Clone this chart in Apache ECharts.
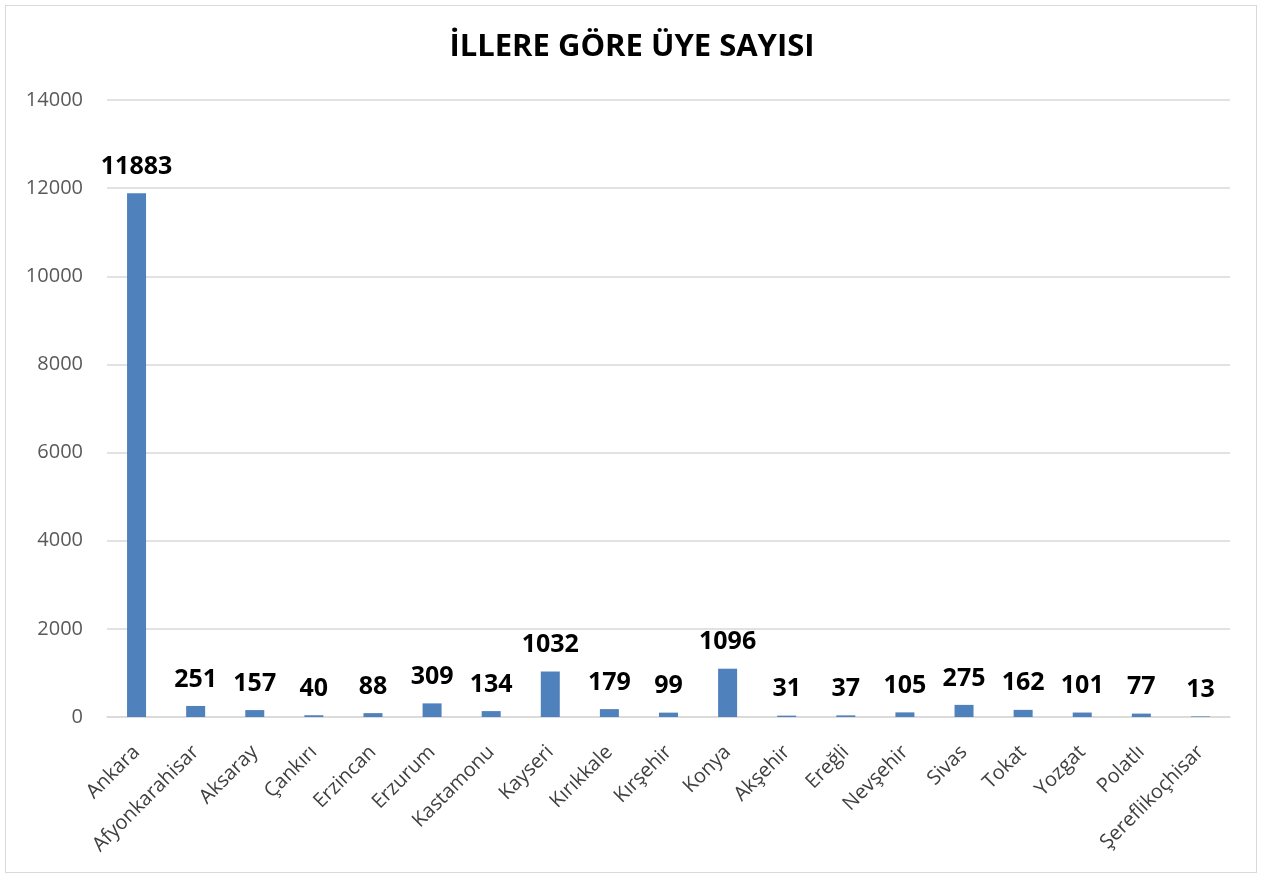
<!DOCTYPE html>
<html><head><meta charset="utf-8">
<script src="https://cdn.jsdelivr.net/npm/echarts@6/dist/echarts.min.js"></script>
<style>
html,body{margin:0;padding:0;background:#fff;}
#frame{position:absolute;left:5px;top:5px;width:1252px;height:868px;border:1px solid #d9d9d9;box-sizing:border-box;}
#chart{position:absolute;left:0;top:0;width:1264px;height:876px;}
</style></head>
<body>
<div id="frame"></div>
<div id="chart"></div>
<script>
const categories = ["Ankara","Afyonkarahisar","Aksaray","Çankırı","Erzincan","Erzurum","Kastamonu","Kayseri","Kırıkkale","Kırşehir","Konya","Akşehir","Ereğli","Nevşehir","Sivas","Tokat","Yozgat","Polatlı","Şereflikoçhisar"];
const values = [11883,251,157,40,88,309,134,1032,179,99,1096,31,37,105,275,162,101,77,13];
const titleText = "İLLERE GÖRE ÜYE SAYISI";

const chart = echarts.init(document.getElementById('chart'));
chart.setOption({
  animation:false,
  title:{text:titleText,left:'center',top:27,textStyle:{fontFamily:'Open Sans, Noto Sans, sans-serif',fontSize:31,fontWeight:'bold',color:'#000'}},
  grid:{left:107,right:34,top:100,bottom:159,containLabel:false},
  xAxis:{type:'category',data:categories,
    axisLine:{lineStyle:{color:'#d9d9d9',width:1.5}},axisTick:{show:false},
    axisLabel:{rotate:45,interval:0,fontSize:20,color:'#404040',fontFamily:'Open Sans, Noto Sans, sans-serif',margin:32}},
  yAxis:{type:'value',min:0,max:14000,interval:2000,
    axisLine:{show:false},axisTick:{show:false},
    splitLine:{lineStyle:{color:'#d9d9d9',width:1.5}},
    axisLabel:{fontSize:20,color:'#595959',fontFamily:'Open Sans, Noto Sans, sans-serif',margin:24,formatter:function(v){return String(v);}}},
  series:[{type:'bar',data:values,barWidth:19,
    itemStyle:{color:'#4f81bd'},
    label:{show:true,position:'top',distance:14,fontSize:25,fontWeight:'bold',color:'#000',fontFamily:'Open Sans, Noto Sans, sans-serif'}}]
});
</script>
</body></html>
